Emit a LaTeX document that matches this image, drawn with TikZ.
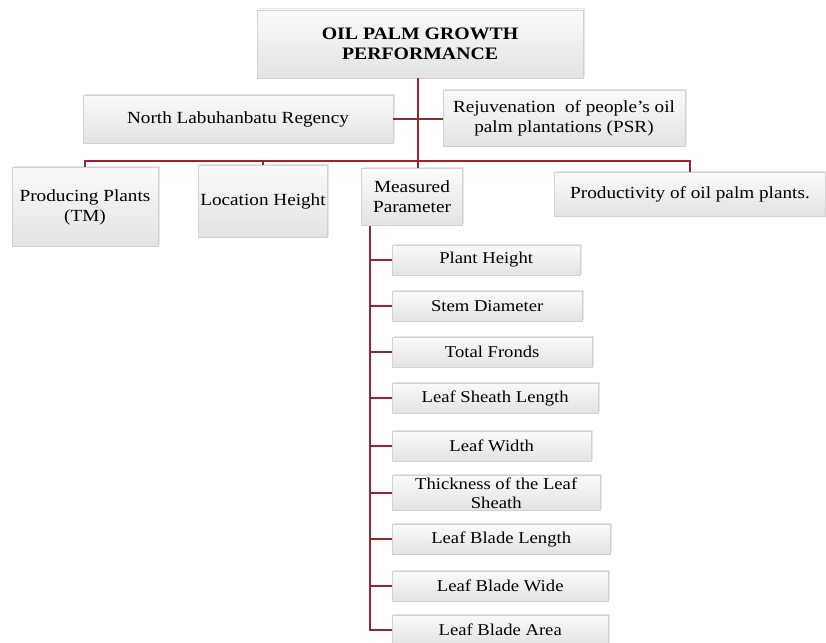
\documentclass[tikz,border=0pt]{standalone}
\usepackage{fontspec}
\setmainfont{Liberation Serif}[FakeStretch=1.13]
\usepackage{tikz}
\usetikzlibrary{shadows}
\definecolor{branchred}{RGB}{150,38,48}
\tikzset{
  box/.style={draw=gray!35, top color=gray!4, bottom color=gray!22, drop shadow={opacity=0.2, shadow xshift=1.5pt, shadow yshift=1.5pt}, align=center, inner sep=2pt, font=\fontsize{17}{20}\selectfont},
  link/.style={draw=branchred, line width=2.6pt}
}
\begin{document}
\begin{tikzpicture}[x=1pt,y=-1pt]
\useasboundingbox (0,0) rectangle (826,642);
\node[box, minimum width=326, minimum height=68, font=\bfseries\fontsize{17.5}{20}\selectfont] (T) at (420,44) {OIL PALM GROWTH\\PERFORMANCE};
\node[box, minimum width=310, minimum height=48] (N) at (238,119) {North Labuhanbatu Regency};
\node[box, minimum width=242, minimum height=56] (R) at (564,118) {Rejuvenation\ \ of people's oil\\palm plantations\ (PSR)};
\node[box, minimum width=146, minimum height=79] (P) at (85,207) {Producing Plants\\(TM)};
\node[box, minimum width=126, minimum height=72] (L) at (263,201) {Location Height};
\node[box, minimum width=101, minimum height=57] (M) at (412,197) {Measured\\Parameter};
\node[box, minimum width=271, minimum height=44] (Q) at (690,194) {Productivity of oil palm plants.};
\coordinate (J) at (418,161);
\coordinate (V) at (370,226);
\draw[link] (T.south -| J) -- (J);
\draw[link] (N.east) -- (N.east -| R.west);
\draw[link] (P.north) |- (J) -| (Q.north);
\draw[link] (L.north) -- (L.north |- J);
\draw[link] (J) -- (J |- M.north);
\foreach \n/\y/\w/\t in {1/260/188/Plant Height, 2/306/190/Stem Diameter, 3/352/200/Total Fronds,
    4/398/206/Leaf Sheath Length, 5/446/199/Leaf Width, 6/493/208/{Thickness of the Leaf\\Sheath},
    7/539/218/Leaf Blade Length, 8/586/216/Leaf Blade Wide, 9/630/216/Leaf Blade Area}{
  \node[box, anchor=west, minimum width=\w, minimum height=30, font=\fontsize{16.5}{19}\selectfont] (C\n) at (392,\y) {\t};
  \draw[link] (V) |- (C\n.west);
}
\end{tikzpicture}
\end{document}
